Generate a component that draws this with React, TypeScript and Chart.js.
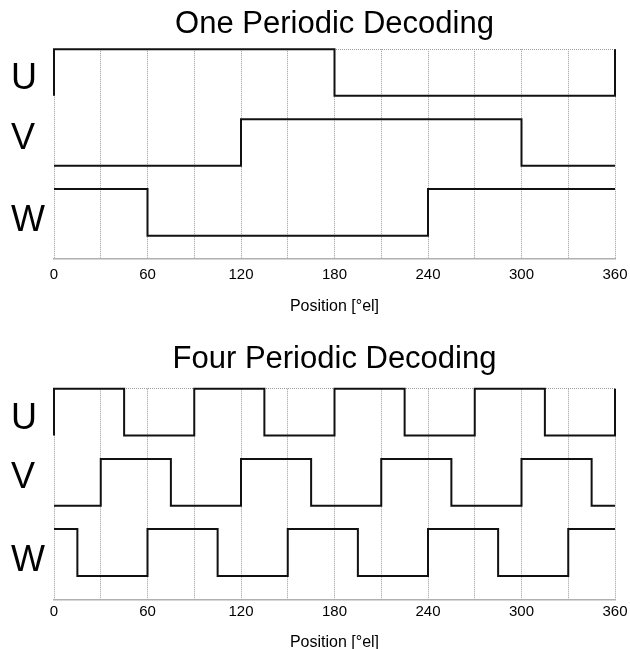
import { useEffect, useRef } from 'react';
import { Chart, registerables } from 'chart.js';

Chart.register(...registerables);

// ---- data ----
const xTickStep = 30;
const xLabelStep = 60;
const xMin = 0;
const xMax = 360;
const axisTitle = 'Position [°el]';

const phaseNames = ['U', 'V', 'W'];
const phaseLabelPos = [7.72, 5.16, 1.64];
const phaseBase = [7, 4, 1];
const phaseAmp = 2;
const yMin = 0;
const yMax = 9;

const oneTitle = 'One Periodic Decoding';
const oneUPos = [0, 0, 180, 360];
const oneULvl = [0, 1, 0, 1];
const oneVPos = [0, 120, 300, 360];
const oneVLvl = [0, 1, 0, 0];
const oneWPos = [0, 60, 240, 360];
const oneWLvl = [1, 0, 1, 1];

const fourTitle = 'Four Periodic Decoding';
const fourUPos = [0, 0, 45, 90, 135, 180, 225, 270, 315, 360];
const fourULvl = [0, 1, 0, 1, 0, 1, 0, 1, 0, 1];
const fourVPos = [0, 30, 75, 120, 165, 210, 255, 300, 345, 360];
const fourVLvl = [0, 1, 0, 1, 0, 1, 0, 1, 0, 0];
const fourWPos = [0, 15, 60, 105, 150, 195, 240, 285, 330, 360];
const fourWLvl = [1, 0, 1, 0, 1, 0, 1, 0, 1, 1];

const FONT = '"Liberation Sans", Arial, Helvetica, sans-serif';
Chart.defaults.font.family = FONT;
Chart.defaults.color = '#000';

type Geom = {
  height: number;
  titlePadTop: number;
  titlePadBottom: number;
  xAxisHeight: number;
  tickPad: number;
  axisTitlePadBottom: number;
};

function makeSignal(pos: number[], lvl: number[], phase: number) {
  return pos.map((p, i) => ({ x: p, y: phaseBase[phase] + lvl[i] * phaseAmp }));
}

function buildConfig(title: string, signals: [number[], number[]][], g: Geom): any {
  const gridColor = '#9c9c9c';
  return {
    type: 'line',
    data: {
      datasets: signals.map(([pos, lvl], i) => ({
        label: phaseNames[i],
        data: makeSignal(pos, lvl, i),
        stepped: true,
        borderColor: '#111',
        borderWidth: 2,
        pointRadius: 0,
        fill: false,
        clip: false,
      })),
    },
    options: {
      responsive: false,
      animation: false,
      layout: { padding: { left: 11, right: 15, top: 0, bottom: 0 } },
      plugins: {
        legend: { display: false },
        tooltip: { enabled: false },
        title: {
          display: true,
          text: title,
          fullSize: false,
          color: '#000',
          font: { size: 31, weight: 'normal', family: FONT },
          padding: { top: g.titlePadTop, bottom: g.titlePadBottom },
        },
      },
      scales: {
        x: {
          type: 'linear',
          min: xMin,
          max: xMax,
          afterFit: (s: any) => {
            s.height = g.xAxisHeight;
            s.paddingLeft = 0;
            s.paddingRight = 0;
          },
          ticks: {
            stepSize: xTickStep,
            autoSkip: false,
            maxRotation: 0,
            minRotation: 0,
            padding: g.tickPad,
            color: '#000',
            font: { size: 15, family: FONT },
            callback: (v: any) => (Number(v) % xLabelStep === 0 ? String(v) : ''),
          },
          grid: { color: gridColor, lineWidth: 1, drawTicks: false },
          border: { display: true, color: '#b0b0b0', width: 1.5, dash: [1, 1] },
          title: {
            display: true,
            text: axisTitle,
            color: '#000',
            font: { size: 16, family: FONT },
            padding: { top: 0, bottom: g.axisTitlePadBottom },
          },
        },
        y: {
          type: 'linear',
          min: yMin,
          max: yMax,
          afterFit: (s: any) => {
            s.width = 43;
            s.paddingTop = 0;
            s.paddingBottom = 0;
          },
          afterBuildTicks: (s: any) => {
            s.ticks = [...phaseLabelPos, yMax].sort((a, b) => a - b).map((v) => ({ value: v }));
          },
          ticks: {
            crossAlign: 'far',
            padding: 0,
            color: '#000',
            font: { size: 36, family: FONT },
            callback: (v: any) => {
              const i = phaseLabelPos.indexOf(Number(v));
              return i >= 0 ? phaseNames[i] : '';
            },
          },
          grid: {
            drawTicks: false,
            lineWidth: 1,
            color: (ctx: any) => (ctx.tick && ctx.tick.value === yMax ? gridColor : 'rgba(0,0,0,0)'),
          },
          border: { display: false, dash: [1, 1] },
        },
      },
    },
  };
}

function DecodingChart(props: { title: string; signals: [number[], number[]][]; geom: Geom }) {
  const ref = useRef<HTMLCanvasElement | null>(null);
  useEffect(() => {
    if (!ref.current) return;
    const chart = new Chart(ref.current, buildConfig(props.title, props.signals, props.geom));
    return () => chart.destroy();
  }, []);
  return (
    <canvas
      ref={ref}
      width={630}
      height={props.geom.height}
      style={{ display: 'block', width: 630, height: props.geom.height }}
    />
  );
}

const topGeom: Geom = {
  height: 325,
  titlePadTop: 5.5,
  titlePadBottom: 6.5,
  xAxisHeight: 66,
  tickPad: 7,
  axisTitlePadBottom: 9,
};

const bottomGeom: Geom = {
  height: 330,
  titlePadTop: 16,
  titlePadBottom: 10.5,
  xAxisHeight: 55.7,
  tickPad: 4,
  axisTitlePadBottom: 3,
};

export default function App() {
  return (
    <div
      style={{
        position: 'absolute',
        left: 0,
        top: 0,
        width: 630,
        height: 649,
        overflow: 'hidden',
        background: '#fff',
      }}
    >
      <DecodingChart
        title={oneTitle}
        signals={[
          [oneUPos, oneULvl],
          [oneVPos, oneVLvl],
          [oneWPos, oneWLvl],
        ]}
        geom={topGeom}
      />
      <DecodingChart
        title={fourTitle}
        signals={[
          [fourUPos, fourULvl],
          [fourVPos, fourVLvl],
          [fourWPos, fourWLvl],
        ]}
        geom={bottomGeom}
      />
    </div>
  );
}
